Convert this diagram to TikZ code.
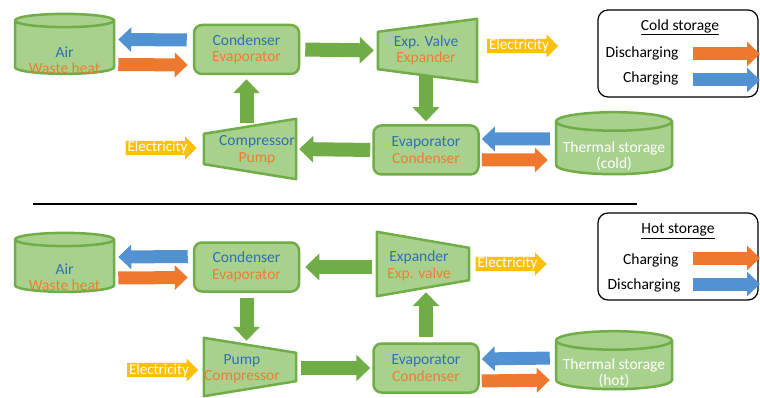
\documentclass[tikz,border=0pt]{standalone}
\usepackage{fontspec}
\setmainfont{Carlito}
\usetikzlibrary{arrows.meta,shapes.geometric,shapes.arrows,backgrounds}

\definecolor{boxgreen}{RGB}{169,209,142}
\definecolor{linegreen}{RGB}{112,173,71}
\definecolor{txtblue}{RGB}{46,112,176}
\definecolor{txtorange}{RGB}{237,125,49}
\definecolor{arrblue}{RGB}{82,146,211}
\definecolor{arrorange}{RGB}{237,120,46}
\definecolor{elecyellow}{RGB}{255,192,0}

\newcommand{\lbl}{\fontsize{15.5}{16.5}\selectfont}
\newcommand{\twolines}[2]{\textcolor{txtblue}{#1}\\\textcolor{txtorange}{#2}}
% trapezium on the node box: narrow side on the left / on the right
\newcommand{\narrowleft}[2]{\draw[machine] (#1.north east) -- (#1.south east) -- ([yshift=#2]#1.south west) -- ([yshift=-#2]#1.north west) -- cycle;}
\newcommand{\narrowright}[2]{\draw[machine] (#1.north west) -- ([yshift=-#2]#1.north east) -- ([yshift=#2]#1.south east) -- (#1.south west) -- cycle;}

\begin{document}
\begin{tikzpicture}[x=1pt,y=-1pt]
\tikzstyle{unit}=[rectangle,rounded corners=8pt,draw=linegreen,line width=2.5pt,fill=boxgreen,minimum width=105pt,minimum height=49pt,align=center,font=\lbl]
\tikzstyle{tank}=[cylinder,shape border rotate=90,aspect=0.17,draw=linegreen,line width=2.5pt,fill=boxgreen,font=\lbl]
\tikzstyle{machinebox}=[rectangle,minimum width=92pt,minimum height=60pt,inner sep=0pt]
\tikzstyle{machine}=[draw=linegreen,line width=2.5pt,fill=boxgreen,line join=round]
\tikzstyle{mtext}=[align=center,font=\lbl]
\tikzstyle{elec}=[single arrow,fill=elecyellow,text=white,font=\fontsize{15}{16}\selectfont,minimum width=23pt,minimum height=71pt,single arrow head extend=4pt,inner xsep=0pt,inner ysep=0pt]
\tikzstyle{legendbox}=[rectangle,rounded corners=10pt,draw=black,line width=1.2pt,minimum width=160pt,minimum height=87pt]
\tikzstyle{keytext}=[anchor=east,font=\lbl]
\tikzstyle{flow}=[line width=14pt,draw=linegreen,-{Triangle[length=14pt,width=26pt]}]
\tikzstyle{heatblue}=[line width=13pt,draw=arrblue,-{Triangle[length=13pt,width=24pt]}]
\tikzstyle{heatorange}=[line width=13pt,draw=arrorange,-{Triangle[length=13pt,width=24pt]}]

\useasboundingbox (0,0) rectangle (760,398);

% cold storage cycle
\node[tank,minimum width=99pt,minimum height=60pt] (air1) at (64.5,49) {\phantom{Waste heat}};
\node[mtext] at (64.5,60) {\twolines{Air}{Waste heat}};
\node[unit] (cond1) at (246.5,49.5) {\twolines{Condenser}{Evaporator}};
\node[machinebox,minimum width=99pt,minimum height=63pt] (exp1) at (427.5,50.5) {};
\node[mtext] at (426,50.5) {\twolines{Exp. Valve}{Expander}};
\node[unit] (evap1) at (426,150) {\twolines{Evaporator}{Condenser}};
\node[tank,minimum width=116pt,minimum height=62pt] (ts1) at (614,150) {\phantom{Thermal storage}};
\node[mtext,text=white] at (614,156) {Thermal storage\\(cold)};
\node[machinebox] (comp1) at (250,149) {};
\node[mtext] at (257,150) {\twolines{Compressor}{Pump}};
\node[elec] (elec1) at (157.5,148) {Electricity};
\node[elec] (elec2) at (519,46) {Electricity};

% hot storage cycle
\node[tank,minimum width=99pt,minimum height=59pt] (air2) at (64.5,267.5) {\phantom{Waste heat}};
\node[mtext] at (64.5,277) {\twolines{Air}{Waste heat}};
\node[unit] (cond2) at (246.5,267) {\twolines{Condenser}{Evaporator}};
\node[machinebox,minimum height=64pt] (exp2) at (423,264) {};
\node[mtext] at (419,266) {\twolines{Expander}{Exp. valve}};
\node[unit] (evap2) at (426,368) {\twolines{Evaporator}{Condenser}};
\node[tank,minimum width=116pt,minimum height=58pt] (ts2) at (614,367) {\phantom{Thermal storage}};
\node[mtext,text=white] at (614,373) {Thermal storage\\(hot)};
\node[machinebox,minimum height=58pt] (pump2) at (250,367) {};
\node[mtext] at (242,369) {\twolines{Pump}{Compressor}};
\node[elec] (elec3) at (507.5,264) {Electricity};
\node[elec] (elec4) at (159,370) {Electricity};

\begin{scope}[on background layer]
\narrowleft{comp1}{15pt}
\narrowleft{exp1}{13pt}
\narrowright{exp2}{16pt}
\narrowright{pump2}{15pt}
\end{scope}

% refrigerant loop
\draw[flow,shorten <=5pt,shorten >=4pt] (cond1.east) -- (exp1.west);
\draw[flow,shorten <=-6pt,shorten >=3pt] (exp1.south -| evap1.north) -- (evap1.north);
\draw[flow,shorten <=2pt,shorten >=3pt] (evap1.west) -- (comp1.east);
\draw[flow,shorten <=-4pt,shorten >=4pt] (comp1.north -| cond1.south) -- (cond1.south);
\draw[flow,shorten <=5pt,shorten >=5pt] (exp2.west |- cond2.east) -- (cond2.east);
\draw[flow,shorten <=5pt,shorten >=-3pt] (cond2.south) -- (pump2.north -| cond2.south);
\draw[flow,shorten <=5pt,shorten >=2pt] (pump2.east |- evap2.west) -- (evap2.west);
\draw[flow,shorten <=5pt,shorten >=-4pt] (evap2.north) -- (exp2.south -| evap2.north);

% heat exchange
\draw[heatblue,shorten <=6pt,shorten >=3pt] ([yshift=9.5pt]cond1.west) -- ([yshift=9.5pt]air1.east);
\draw[heatorange,shorten <=3pt,shorten >=5pt] ([yshift=-15.5pt]air1.east) -- ([yshift=-15.5pt]cond1.west);
\draw[heatblue,shorten <=5pt,shorten >=2pt] ([yshift=11pt]ts1.west) -- ([yshift=11pt]evap1.east);
\draw[heatorange,shorten <=2pt,shorten >=7pt] ([yshift=-10pt]evap1.east) -- ([yshift=-10pt]ts1.west);
\draw[heatblue,shorten <=5pt,shorten >=3pt] ([yshift=10.5pt]cond2.west) -- ([yshift=10.5pt]air2.east);
\draw[heatorange,shorten <=3pt,shorten >=5pt] ([yshift=-10.5pt]air2.east) -- ([yshift=-10.5pt]cond2.west);
\draw[heatblue,shorten <=5pt,shorten >=2pt] ([yshift=9pt]ts2.west) -- ([yshift=9pt]evap2.east);
\draw[heatorange,shorten <=2pt,shorten >=5pt] ([yshift=-13pt]evap2.east) -- ([yshift=-13pt]ts2.west);

% separator
\coordinate (sepL) at (33,204);
\coordinate (sepR) at (637,204);
\draw[line width=1.5pt] (sepL) -- (sepR);

% legends
\node[legendbox] (key1) at (678,53.5) {};
\node[font=\lbl] (key1t) at (680,27) {\underline{Cold storage}};
\node[keytext] (key1a) at (682,53) {Discharging};
\node[keytext] (key1b) at (682,78) {Charging};
\coordinate (key1ao) at (760,54);
\coordinate (key1ab) at (760,80);
\draw[heatorange,shorten <=11pt] (key1a.east |- key1ao) -- (key1ao);
\draw[heatblue,shorten <=11pt] (key1a.east |- key1ab) -- (key1ab);

\node[legendbox] (key2) at (678,256.5) {};
\node[font=\lbl] (key2t) at (678,231) {\underline{Hot storage}};
\node[keytext] (key2a) at (682,260) {Charging};
\node[keytext] (key2b) at (684,285) {Discharging};
\coordinate (key2ao) at (760,258);
\coordinate (key2ab) at (760,284);
\draw[heatorange,shorten <=11pt] (key2a.east |- key2ao) -- (key2ao);
\draw[heatblue,shorten <=9pt] (key2b.east |- key2ab) -- (key2ab);
\end{tikzpicture}
\end{document}
